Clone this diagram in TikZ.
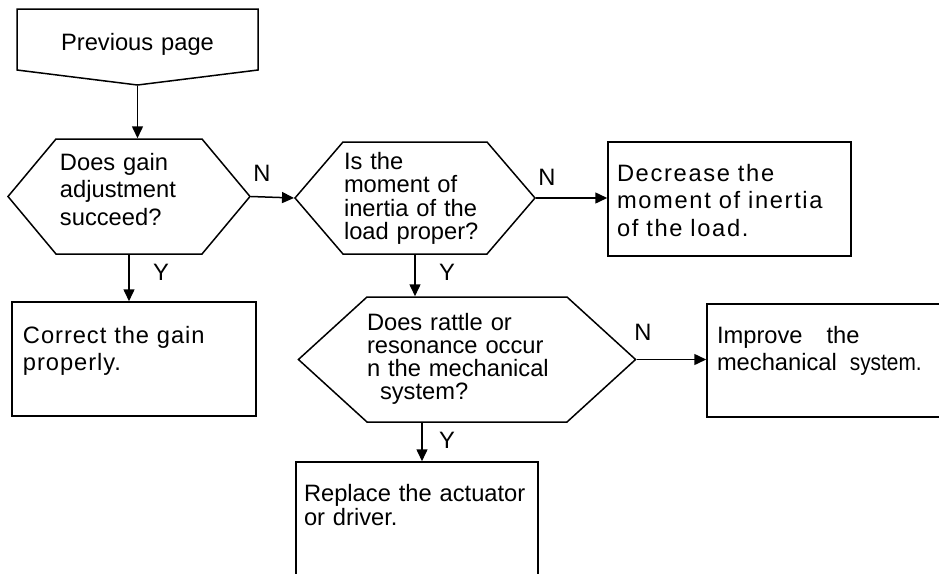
\documentclass[tikz,border=0pt]{standalone}
\usepackage{fontspec}
\setmainfont{Liberation Sans}
\usepackage{graphicx}
\usetikzlibrary{shapes.symbols,arrows.meta}

\begin{document}
\begin{tikzpicture}[x=0.5pt,y=-0.5pt,line width=0.75pt,
    arr/.style={-{Triangle[length=6pt,width=5.5pt]}},
    hexa/.style={draw,shape=signal,signal to=west and east,inner ysep=0pt,align=left},
    actbox/.style={draw,rectangle,inner ysep=0pt,align=left},
    lbl/.style={inner sep=0pt,font=\fontsize{11.85}{13.75}\selectfont}]
    \useasboundingbox (0,0) rectangle (939,574);
    \clip (0,0) rectangle (939,574);
    % decisions
    \node[draw,shape=signal,signal to=south,signal pointer angle=165.8,inner sep=0pt,
          text width=120.5pt,align=center,text height=20.5pt,text depth=10pt,
          font=\fontsize{11.85}{13.75}\selectfont] (prev) at (137.5,39.5) {Previous page};
    \node[hexa,signal pointer angle=100.3,inner xsep=2pt,text width=69pt,
          text height=15.5pt,text depth=42pt,font=\fontsize{11.85}{13.75}\selectfont]
          (gain) at (129,196.5) {Does gain\\adjustment\\succeed?};
    \node[hexa,signal pointer angle=98.8,inner xsep=0.5pt,text width=71pt,
          text height=13.5pt,text depth=42.5pt,font=\fontsize{11.85}{11.75}\selectfont]
          (inertia) at (415,198) {Is the\\moment of\\inertia of the\\load proper?};
    \node[hexa,signal pointer angle=84.7,inner xsep=0pt,text width=100pt,
          text height=16.5pt,text depth=46pt,font=\fontsize{11.85}{11.5}\selectfont]
          (rattle) at (467,359.5) {Does rattle or\\resonance occur\\n the mechanical\\\hspace*{6.5pt}system?};
    % actions
    \node[actbox,inner xsep=5.5pt,text width=111pt,text height=20.5pt,text depth=36.5pt,
          font=\fontsize{11.85}{13.75}\selectfont\addfontfeature{LetterSpace=4}]
          (corr) at (134,359) {Correct the gain\\properly.};
    \node[actbox,inner xsep=4.5pt,text width=112.5pt,text height=19.5pt,text depth=37.5pt,
          font=\fontsize{11.85}{13.75}\selectfont\addfontfeature{LetterSpace=7}]
          (dec) at (729.5,199) {Decrease the\\moment of inertia\\of the load.};
    \node[actbox,inner xsep=5pt,text width=116.5pt,text height=19.5pt,text depth=37pt,
          font=\fontsize{11.85}{13.75}\selectfont]
          (impr) at (833.5,360.5) {Improve\hspace{12pt}the\\mechanical\hspace{6.5pt}\scalebox{0.88}[1]{system.}};
    \node[actbox,inner xsep=4pt,text width=113pt,text height=19.5pt,text depth=49.5pt,
          font=\fontsize{11.85}{12}\selectfont]
          (repl) at (417,531) {Replace the actuator\\or driver.};
    % labels
    \node[lbl] (n1) at (262,173) {N};
    \node[lbl] (n2) at (547,177) {N};
    \node[lbl] (n3) at (643,332) {N};
    \node[lbl] (y1) at (161,272) {Y};
    \node[lbl] (y2) at (447,272) {Y};
    \node[lbl] (y3) at (447,440) {Y};
    % connectors
    \draw[arr] (prev.south) -- (prev.south |- gain.north);
    \draw[arr] (gain.east) -- (inertia.west);
    \draw[arr] (gain.south) -- (gain.south |- corr.north);
    \draw[arr] (inertia.east) -- (inertia.east -| dec.west);
    \draw[arr] (inertia.south) -- (inertia.south |- rattle.north);
    \draw[arr] (rattle.east) -- (rattle.east -| impr.west);
    \draw[arr] ([xshift=-22.5pt]rattle.south) -- ([xshift=-22.5pt]rattle.south |- repl.north);
\end{tikzpicture}
\end{document}
